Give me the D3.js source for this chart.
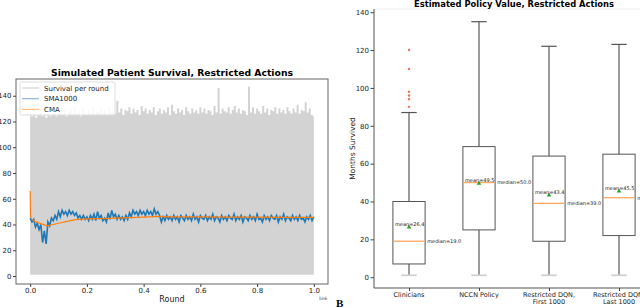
<!DOCTYPE html>
<html lang="en">

<head>
  <meta charset="UTF-8" />
  <meta name="viewport" content="width=device-width, initial-scale=1.0" />
  <script src="https://d3js.org/d3.v7.min.js"></script>
  <title>Patient Survival and Policy Value</title>
  <style>
    body { margin: 0; background: #fff; }
    svg { display: block; font-family: "DejaVu Sans", sans-serif; }
  </style>
</head>

<body>
  <svg width="640" height="308"></svg>

  <script>
    // ---- data: left panel (rounds in millions) ----
    const roundTicks = [0, 0.2, 0.4, 0.6, 0.8, 1.0];
    const survivalTicks = [0, 20, 40, 60, 80, 100, 120, 140];

    // upper envelope of survival per round, one value every 1/140 of the run
    const survivalUpper = [
      125, 124, 126, 123, 125, 127, 124, 125, 123, 126, 124, 125, 127, 124, 126,
      128, 125, 130, 124, 127, 129, 125, 131, 126, 128, 124, 130, 127, 125,
      129, 126, 131, 125, 128, 127, 130, 126, 129, 125, 131, 127, 128, 126,
      136, 127, 130, 125, 129, 128, 131, 126, 130, 127, 129, 125, 132, 128,
      130, 126, 129, 127, 131, 125, 128, 130, 126, 129, 127, 131, 125, 133,
      128, 126, 130, 127, 129, 125, 131, 128, 126, 130, 127, 129, 126, 131,
      127, 130, 126, 129, 128, 125, 132, 127, 146, 126, 130, 128, 127, 131,
      126, 129, 132, 127, 130, 126, 129, 128, 125, 147, 127, 131, 126, 130,
      128, 126, 132, 127, 130, 125, 129, 128, 131, 126, 130, 127, 129, 126,
      131, 128, 126, 130, 127, 133, 126, 129, 128, 135, 127, 130, 125, 124
    ];
    const survivalLower = 1;

    // simple moving average (window 1000), one value every 1/160 of the run
    const sma1000 = [
      45, 42, 44, 38, 41, 36, 40, 26, 35, 25, 42, 39, 45, 43, 47, 44,
      50, 46, 51, 48, 50, 47, 51, 48, 50, 47, 49, 45, 47, 44, 47, 44,
      46, 43, 47, 44, 48, 43, 50, 45, 47, 43, 45, 42, 49, 44, 51, 46,
      48, 44, 47, 44, 46, 43, 47, 44, 49, 46, 51, 48, 50, 47, 51, 48,
      50, 47, 51, 48, 50, 47, 52, 48, 50, 47, 42, 46, 43, 47, 44, 46,
      43, 47, 44, 46, 42, 47, 45, 43, 47, 44, 46, 43, 48, 44, 46, 42,
      47, 45, 44, 47, 43, 46, 44, 48, 43, 46, 45, 42, 47, 44, 46, 43,
      47, 45, 44, 48, 43, 46, 44, 47, 42, 46, 45, 43, 47, 44, 46, 43,
      48, 44, 45, 42, 47, 44, 46, 43, 47, 45, 44, 47, 42, 46, 44, 48,
      43, 46, 45, 43, 47, 44, 46, 43, 47, 44, 45, 42, 46, 44, 47, 43,
      46
    ];

    // cumulative moving average
    const cmaRounds = [0, 0.001, 0.005, 0.02, 0.04, 0.06, 0.08, 0.1, 0.13, 0.16, 0.2,
      0.25, 0.3, 0.35, 0.4, 0.45, 0.5, 0.6, 0.7, 0.8, 0.9, 1.0];
    const cma = [66, 47, 44, 42, 40.5, 39, 40, 41, 42.5, 43.8, 44.3,
      44.6, 45, 45.4, 45.8, 46.3, 46, 45.9, 45.8, 45.7, 45.6, 45.5];

    // ---- data: right panel ----
    const policies = ["Clinicians", "NCCN Policy", "Restricted DQN,|First 1000", "Restricted DQN,|Last 1000"];
    const whiskerLow = [1, 1, 1, 1];
    const q1 = [7, 25, 19, 22];
    const medians = [19.0, 50.0, 39.0, 42.0];
    const q3 = [40, 69, 64, 65];
    const whiskerHigh = [87, 135, 122, 123];
    const means = [26.4, 49.5, 43.4, 45.5];
    const clinicianOutliers = [120, 110, 98, 96, 94, 90];
    const monthTicks = [0, 20, 40, 60, 80, 100, 120, 140];

    const svg = d3.select("svg");

    // ================= left panel =================
    const xL = d3.scaleLinear().domain([-0.05, 1.05]).range([16, 328]);
    const yL = d3.scaleLinear().domain([-6.2, 153]).range([284, 79]);

    const left = svg.append("g");

    // survival per round (grey band)
    const perRound = survivalUpper.map((v, i) => ({ r: i / (survivalUpper.length - 1), v }));
    left.append("path")
      .datum(perRound)
      .attr("fill", "#d3d3d3")
      .attr("d", d3.area().curve(d3.curveStep).x(d => xL(d.r)).y0(yL(survivalLower)).y1(d => yL(d.v)));

    // SMA1000
    left.append("path")
      .datum(sma1000.map((v, i) => ({ r: i / (sma1000.length - 1), v })))
      .attr("fill", "none")
      .attr("stroke", "#1f77b4")
      .attr("stroke-width", 1.6)
      .attr("d", d3.line().x(d => xL(d.r)).y(d => yL(d.v)));

    // CMA
    left.append("path")
      .datum(cmaRounds.map((r, i) => ({ r, v: cma[i] })))
      .attr("fill", "none")
      .attr("stroke", "#ff7f0e")
      .attr("stroke-width", 1.2)
      .attr("d", d3.line().x(d => xL(d.r)).y(d => yL(d.v)));

    // frame
    left.append("rect")
      .attr("x", 16).attr("y", 79).attr("width", 312).attr("height", 205)
      .attr("fill", "none").attr("stroke", "#666").attr("stroke-width", 1);

    const axL = left.append("g")
      .attr("transform", "translate(16,0)")
      .call(d3.axisLeft(yL).tickValues(survivalTicks).tickSize(3).tickPadding(1.5));
    const axB = left.append("g")
      .attr("transform", "translate(0,284)")
      .call(d3.axisBottom(xL).tickValues(roundTicks).tickFormat(d3.format(".1f")).tickSize(3).tickPadding(1));
    [axL, axB].forEach(a => {
      a.select(".domain").remove();
      a.selectAll("line").attr("stroke", "#444");
      a.selectAll("text").attr("font-size", 7).attr("fill", "#222").attr("font-family", "DejaVu Sans");
    });

    left.append("text")
      .attr("x", 172).attr("y", 76)
      .attr("text-anchor", "middle")
      .attr("font-weight", "bold").attr("font-size", 9)
      .attr("textLength", 242).attr("lengthAdjust", "spacingAndGlyphs")
      .text("Simulated Patient Survival, Restricted Actions");

    left.append("text")
      .attr("x", 172).attr("y", 302)
      .attr("text-anchor", "middle").attr("font-size", 8).attr("fill", "#222")
      .text("Round");

    left.append("text")
      .attr("x", 327).attr("y", 300)
      .attr("text-anchor", "end").attr("font-size", 4.5).attr("fill", "#444")
      .text("1e6");

    // legend
    const legend = left.append("g");
    legend.append("rect")
      .attr("x", 20).attr("y", 82).attr("width", 95).attr("height", 33).attr("rx", 1.5)
      .attr("fill", "#fff").attr("fill-opacity", 0.85).attr("stroke", "#ddd");
    const legendItems = [
      ["Survival per round", "#d3d3d3"],
      ["SMA1000", "#8fb6da"],
      ["CMA", "#ffbb80"]
    ];
    legendItems.forEach(([label, color], i) => {
      const yy = 88 + i * 10.7;
      legend.append("line")
        .attr("x1", 22).attr("x2", 39).attr("y1", yy).attr("y2", yy)
        .attr("stroke", color).attr("stroke-width", 1.2);
      legend.append("text")
        .attr("x", 44).attr("y", yy + 2.5)
        .attr("font-size", 7).attr("fill", "#222")
        .text(label);
    });

    // ================= right panel =================
    const xR = d3.scaleLinear().domain([0.5, 4.5]).range([374, 654]);
    const yR = d3.scaleLinear().domain([-5.7, 141.7]).range([288, 9]);
    const pos = policies.map((p, i) => i + 1);
    const halfBox = 0.23, halfCap = 0.11;

    const right = svg.append("g");

    // spines
    right.append("line").attr("x1", 374).attr("x2", 654).attr("y1", 9).attr("y2", 9)
      .attr("stroke", "#eee");
    right.append("line").attr("x1", 374).attr("x2", 374).attr("y1", 9).attr("y2", 288)
      .attr("stroke", "#555");
    right.append("line").attr("x1", 374).attr("x2", 654).attr("y1", 288).attr("y2", 288)
      .attr("stroke", "#555");

    const boxes = right.selectAll("g.box")
      .data(pos)
      .enter()
      .append("g")
      .attr("class", "box");

    // whiskers
    boxes.append("line")
      .attr("x1", d => xR(d)).attr("x2", d => xR(d))
      .attr("y1", (d, i) => yR(q3[i])).attr("y2", (d, i) => yR(whiskerHigh[i]))
      .attr("stroke", "#666").attr("stroke-width", 1.3);
    boxes.append("line")
      .attr("x1", d => xR(d)).attr("x2", d => xR(d))
      .attr("y1", (d, i) => yR(q1[i])).attr("y2", (d, i) => yR(whiskerLow[i]))
      .attr("stroke", "#666").attr("stroke-width", 1.3);
    // caps
    boxes.append("line")
      .attr("x1", d => xR(d - halfCap)).attr("x2", d => xR(d + halfCap))
      .attr("y1", (d, i) => yR(whiskerHigh[i])).attr("y2", (d, i) => yR(whiskerHigh[i]))
      .attr("stroke", "#555").attr("stroke-width", 1.2);
    boxes.append("line")
      .attr("x1", d => xR(d - halfCap)).attr("x2", d => xR(d + halfCap))
      .attr("y1", (d, i) => yR(whiskerLow[i])).attr("y2", (d, i) => yR(whiskerLow[i]))
      .attr("stroke", "#d0d0d0").attr("stroke-width", 1.8);
    // box
    boxes.append("rect")
      .attr("x", d => xR(d - halfBox))
      .attr("width", xR(1 + halfBox) - xR(1 - halfBox))
      .attr("y", (d, i) => yR(q3[i]))
      .attr("height", (d, i) => yR(q1[i]) - yR(q3[i]))
      .attr("fill", "#fff").attr("stroke", "#555").attr("stroke-width", 1);
    // median
    boxes.append("line")
      .attr("x1", d => xR(d - halfBox) + 0.5).attr("x2", d => xR(d + halfBox) - 0.5)
      .attr("y1", (d, i) => yR(medians[i])).attr("y2", (d, i) => yR(medians[i]))
      .attr("stroke", "#ffa860").attr("stroke-width", 1.3);
    // mean marker
    boxes.append("path")
      .attr("transform", (d, i) => `translate(${xR(d)},${yR(means[i])})`)
      .attr("d", d3.symbol(d3.symbolTriangle, 9))
      .attr("fill", "#2ca02c");
    // annotations
    boxes.append("text")
      .attr("x", d => xR(d - 0.2)).attr("y", (d, i) => yR(means[i]) - 1.5)
      .attr("font-size", 5).attr("fill", "#222")
      .text((d, i) => `mean=${means[i].toFixed(1)}`);
    boxes.append("text")
      .attr("x", d => xR(d + 0.26)).attr("y", (d, i) => yR(medians[i]) + 1.8)
      .attr("font-size", 5).attr("fill", "#222")
      .text((d, i) => `median=${medians[i].toFixed(1)}`);

    // outliers
    right.selectAll("circle.flier")
      .data(clinicianOutliers)
      .enter()
      .append("circle")
      .attr("class", "flier")
      .attr("cx", xR(1)).attr("cy", d => yR(d)).attr("r", 1.2)
      .attr("fill", "#f5704f");

    // axes
    const axR = right.append("g")
      .attr("transform", "translate(374,0)")
      .call(d3.axisLeft(yR).tickValues(monthTicks).tickSize(3.5).tickPadding(1.5));
    axR.select(".domain").remove();
    axR.selectAll("line").attr("stroke", "#444");
    axR.selectAll("text").attr("font-size", 7).attr("fill", "#222").attr("font-family", "DejaVu Sans");

    const axRB = right.append("g")
      .attr("transform", "translate(0,288)")
      .call(d3.axisBottom(xR).tickValues(pos).tickSize(3).tickFormat(() => ""));
    axRB.select(".domain").remove();
    axRB.selectAll("line").attr("stroke", "#444");

    right.selectAll("text.cat")
      .data(policies)
      .enter()
      .append("text")
      .attr("class", "cat")
      .attr("text-anchor", "middle")
      .attr("font-size", 6.5).attr("fill", "#222")
      .each(function (p, i) {
        const t = d3.select(this);
        p.split("|").forEach((ln, j) => {
          t.append("tspan").attr("x", xR(i + 1)).attr("y", 296.5 + j * 7).text(ln);
        });
      });

    right.append("text")
      .attr("transform", "translate(354.5,148.5) rotate(-90)")
      .attr("text-anchor", "middle").attr("font-size", 7.5).attr("fill", "#222")
      .text("Months Survived");

    right.append("text")
      .attr("x", 514).attr("y", 7)
      .attr("text-anchor", "middle")
      .attr("font-weight", "bold").attr("font-size", 8)
      .attr("textLength", 200).attr("lengthAdjust", "spacingAndGlyphs")
      .text("Estimated Policy Value, Restricted Actions");

    svg.append("text")
      .attr("x", 336).attr("y", 307)
      .attr("font-family", "Liberation Serif").attr("font-weight", "bold").attr("font-size", 11)
      .text("B");
  </script>
</body>

</html>
